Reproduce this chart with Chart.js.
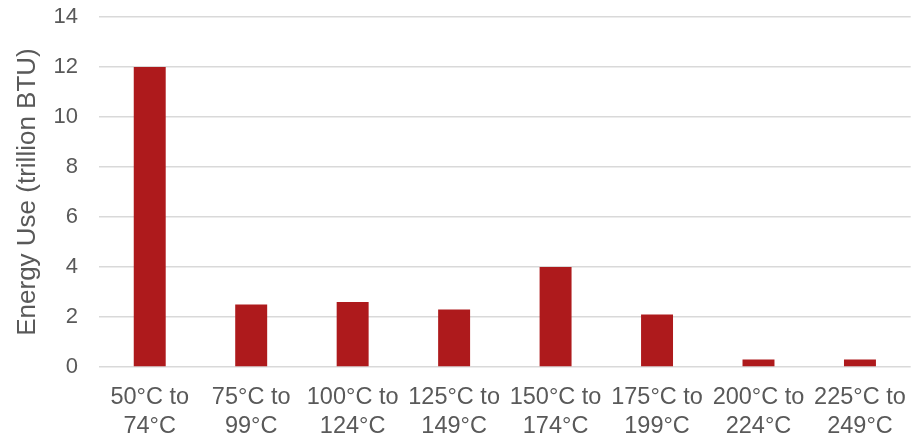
<!DOCTYPE html>
<html>
<head>
<meta charset="utf-8">
<script src="https://cdn.jsdelivr.net/npm/chart.js@4"></script>
<style>
  html,body{margin:0;padding:0;background:#fff;}
  #wrap{width:914px;height:435px;position:relative;}
</style>
</head>
<body>
<div id="wrap"><canvas id="chart"></canvas></div>
<script>
// Energy use by temperature band
const categories=[
  ['50°C to','74°C'],['75°C to','99°C'],['100°C to','124°C'],['125°C to','149°C'],
  ['150°C to','174°C'],['175°C to','199°C'],['200°C to','224°C'],['225°C to','249°C']
];
const energyUse=[12,2.5,2.6,2.3,4.0,2.1,0.3,0.3];
const yTicks=[0,2,4,6,8,10,12,14];
const yTitle='Energy Use (trillion BTU)';

const TXT='#595959';
const FONT='"Liberation Sans", Arial, sans-serif';

new Chart(document.getElementById('chart'),{
  type:'bar',
  data:{labels:categories,datasets:[{data:energyUse,backgroundColor:'#AE1A1C',borderWidth:0,barPercentage:0.315,categoryPercentage:1}]},
  options:{
    responsive:true,maintainAspectRatio:false,animation:false,
    layout:{padding:{top:17,right:3,left:0,bottom:0}},
    plugins:{legend:{display:false},tooltip:{enabled:false}},
    scales:{
      x:{
        grid:{display:false},border:{display:false},
        ticks:{color:TXT,font:{family:FONT,size:23.5,lineHeight:1.23},padding:8,maxRotation:0,autoSkip:false},
        afterFit:s=>{s.height=68;}
      },
      y:{
        min:0,max:14,
        afterBuildTicks:s=>{s.ticks=yTicks.map(v=>({value:v}));},
        // invisible tick marks stand in for the label gap so the top isn't pushed down
        grid:{color:'#D9D9D9',lineWidth:1.5,drawTicks:true,tickLength:21,tickColor:'rgba(0,0,0,0)'},border:{display:false},
        ticks:{color:TXT,font:{family:FONT,size:22},padding:0},
        title:{display:true,text:yTitle,color:TXT,font:{family:FONT,size:26},padding:{top:12,bottom:0}},
        afterFit:s=>{s.width=99;}
      }
    }
  }
});
</script>
</body>
</html>
